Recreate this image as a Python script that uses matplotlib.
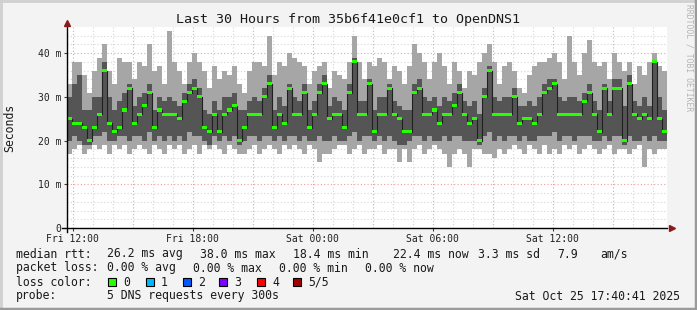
import numpy as np
import matplotlib
matplotlib.use('Agg')
from matplotlib import pyplot as plt
from matplotlib.patches import Rectangle

# 15 minute buckets over 30 hours, hours counted from Fri 00:00
start_h = 11.72
step_h = 0.25

med = [25, 24, 24, 23, 20, 23, 26, 36, 24, 22,
       23, 27, 32, 24, 26, 28, 31, 23, 27, 26,
       26, 26, 25, 29, 31, 32, 30, 23, 22, 26,
       22, 26, 27, 28, 20, 23, 26, 26, 26, 30,
       33, 23, 26, 24, 32, 26, 26, 31, 23, 26,
       31, 33, 25, 26, 26, 23, 31, 38, 26, 26,
       33, 22, 26, 26, 32, 26, 25, 22, 22, 31,
       32, 26, 26, 27, 24, 26, 26, 28, 31, 26,
       24, 25, 20, 30, 36, 26, 26, 26, 26, 30,
       24, 25, 25, 24, 26, 31, 32, 33, 26, 26,
       26, 26, 26, 29, 31, 26, 22, 32, 26, 32,
       32, 20, 33, 26, 25, 26, 25, 38, 25, 22]

hi = [33, 38, 38, 35, 31, 36, 39, 42, 36, 33,
      39, 38, 38, 34, 38, 37, 42, 36, 37, 33,
      45, 38, 36, 33, 38, 40, 38, 36, 32, 37,
      34, 36, 35, 37, 33, 31, 36, 38, 38, 37,
      44, 35, 38, 37, 40, 39, 38, 37, 33, 36,
      37, 38, 32, 36, 35, 34, 38, 44, 38, 34,
      38, 37, 39, 38, 34, 37, 36, 33, 37, 42,
      40, 38, 34, 38, 40, 37, 33, 38, 36, 32,
      36, 35, 38, 40, 42, 38, 33, 37, 38, 36,
      32, 31, 35, 37, 38, 38, 39, 40, 38, 34,
      44, 38, 35, 40, 43, 38, 37, 38, 34, 40,
      38, 36, 38, 33, 37, 35, 38, 40, 37, 36]

lo = [17, 18, 19, 17, 18, 19, 18, 19, 17, 19,
      18, 19, 17, 18, 19, 18, 17, 19, 18, 17,
      19, 18, 19, 17, 18, 19, 17, 19, 18, 19,
      18, 17, 19, 18, 17, 17, 18, 19, 17, 18,
      19, 18, 17, 19, 18, 19, 18, 17, 19, 18,
      15, 17, 17, 18, 19, 19, 17, 18, 19, 17,
      18, 18, 19, 17, 18, 18, 15, 18, 15, 18,
      19, 17, 18, 19, 18, 17, 14, 17, 18, 17,
      14, 18, 18, 17, 17, 16, 18, 17, 18, 19,
      18, 17, 19, 18, 17, 19, 17, 18, 17, 19,
      18, 19, 17, 18, 19, 18, 17, 18, 19, 17,
      18, 18, 17, 18, 19, 14, 18, 17, 18, 18]

p2 = [20, 21, 20, 19, 19, 21, 21, 22, 20, 20,
      21, 21, 20, 21, 21, 20, 22, 20, 21, 20,
      21, 20, 21, 20, 22, 21, 21, 20, 19, 21,
      20, 21, 20, 21, 19, 20, 21, 21, 20, 21,
      21, 20, 21, 20, 21, 21, 20, 21, 20, 20,
      21, 20, 20, 21, 20, 20, 21, 22, 20, 21,
      21, 20, 21, 20, 21, 20, 19, 19, 20, 21,
      21, 20, 21, 20, 20, 21, 20, 21, 21, 20,
      20, 20, 19, 21, 22, 20, 21, 20, 21, 21,
      20, 21, 20, 20, 21, 21, 21, 22, 20, 21,
      21, 20, 21, 21, 21, 20, 20, 21, 20, 21,
      21, 19, 21, 20, 20, 21, 20, 21, 20, 20]

p4 = [30, 33, 35, 27, 27, 30, 30, 38, 30, 27,
      29, 31, 33, 28, 30, 31, 33, 27, 30, 29,
      30, 29, 28, 31, 33, 34, 32, 27, 26, 29,
      27, 30, 30, 31, 27, 27, 29, 30, 29, 32,
      35, 27, 30, 28, 33, 30, 29, 33, 27, 29,
      33, 35, 28, 30, 29, 27, 33, 39, 29, 29,
      34, 27, 30, 30, 33, 29, 28, 27, 27, 33,
      34, 30, 29, 30, 28, 30, 29, 31, 33, 29,
      28, 29, 26, 32, 37, 30, 29, 30, 30, 32,
      28, 28, 29, 28, 30, 33, 34, 34, 30, 29,
      30, 30, 29, 31, 33, 29, 27, 33, 29, 34,
      34, 28, 35, 29, 28, 30, 28, 38, 30, 27]

tick_hours = [12, 18, 24, 30, 36]
tick_labels = ['Fri 12:00', 'Fri 18:00', 'Sat 00:00', 'Sat 06:00', 'Sat 12:00']
y_ticks = [0, 10, 20, 30, 40]
y_labels = ['0', '10 m', '20 m', '30 m', '40 m']

W, H = 697, 310
fig = plt.figure(figsize=(W / 100, H / 100), dpi=100, facecolor='#f3f3f3')
ax = fig.add_axes([67 / W, 1 - 228 / H, 600 / W, 201 / H])
ax.set_facecolor('white')

n = len(med)
x = start_h + step_h * np.arange(n)
med_a = np.array(med, float)
ax.bar(x, np.array(hi) - np.array(lo), bottom=lo, width=step_h, align='edge',
       color='#a6a6a6', linewidth=0, zorder=2)
ax.bar(x, np.array(p4) - np.array(p2), bottom=p2, width=step_h, align='edge',
       color='#555555', linewidth=0, zorder=3)
xe = np.append(x, x[-1] + step_h)
ax.step(xe, np.append(med_a, med_a[-1]), where='post', color='#202020', lw=0.8, zorder=4)
ax.bar(x, 0.7, bottom=med_a - 0.35, width=step_h, align='edge',
       color='#26ff00', linewidth=0, zorder=5)

ax.set_xlim(start_h, start_h + 30)
ax.set_ylim(0, 46)

# grid: hourly minor, red every 3 hours / 10 ms
for h in range(12, 42):
    c = '#f0a0a0' if h % 3 == 0 else '#d4d4d4'
    ax.axvline(h, color=c, lw=0.8, ls=(0, (1, 2)), zorder=1)
for v in range(2, 46, 2):
    c = '#f0a0a0' if v % 10 == 0 else '#d4d4d4'
    ax.axhline(v, color=c, lw=0.8, ls=(0, (1, 2)), zorder=1)

for s in ax.spines.values():
    s.set_visible(False)
ax.set_xticks(tick_hours)
ax.set_xticklabels(tick_labels)
ax.set_yticks(y_ticks)
ax.set_yticklabels(y_labels)
ax.tick_params(length=2, width=0.8, color='#404040', labelsize=7, pad=2, labelcolor='#202020')
for lab in ax.get_xticklabels() + ax.get_yticklabels():
    lab.set_family('DejaVu Sans Mono')

# axis lines with arrows
ax.plot([-0.009, 1.0], [0, 0], transform=ax.transAxes, color='black', lw=1, clip_on=False, zorder=6)
ax.plot([0, 0], [-0.02, 1.0], transform=ax.transAxes, color='black', lw=1, clip_on=False, zorder=6)
ax.plot([1.008], [0], transform=ax.transAxes, marker='>', ms=5, color='#8b1a1a', clip_on=False, zorder=7)
ax.plot([0], [1.02], transform=ax.transAxes, marker='^', ms=5, color='#8b1a1a', clip_on=False, zorder=7)

mono = 'DejaVu Sans Mono'
def t(px, py, s, **kw):
    kw.setdefault('size', 8.3)
    kw.setdefault('family', mono)
    kw.setdefault('color', '#1a1a1a')
    kw.setdefault('va', 'center')
    fig.text(px / W, 1 - py / H, s, **kw)

t(348, 19, 'Last 30 Hours from 35b6f41e0cf1 to OpenDNS1', size=9.6, ha='center')
t(10, 128, 'Seconds', rotation=90, ha='center', size=8.3)
t(689, 58, 'RRDTOOL / TOBI OETIKER', rotation=270, ha='center', size=5.8, color='#b4b4b4')

t(16, 254, 'median rtt:')
for px, s in [(107, '26.2 ms avg'), (200, '38.0 ms max'), (293, '18.4 ms min'),
              (393, '22.4 ms now'), (478, '3.3 ms sd'), (557, '7.9'), (600, 'am/s')]:
    t(px, 254, s)
t(16, 268, 'packet loss:')
for px, s in [(107, '0.00 % avg'), (193, '0.00 % max'), (279, '0.00 % min'), (365, '0.00 % now')]:
    t(px, 268, s)
t(16, 282, 'loss color:')
loss_cols = ['#26ff00', '#00b8ff', '#0059ff', '#7e00ff', '#ff0000', '#a10000']
loss_names = ['0', '1', '2', '3', '4', '5/5']
box_x = [108, 146, 183, 219, 257, 293]
for bx, c, nm in zip(box_x, loss_cols, loss_names):
    fig.patches.append(Rectangle((bx / W, 1 - 286 / H), 8 / W, 8 / H, transform=fig.transFigure,
                                 facecolor=c, edgecolor='black', lw=0.8))
    t(bx + 15, 282, nm)
t(16, 296, 'probe:')
t(107, 296, '5 DNS requests every 300s')
t(680, 296, 'Sat Oct 25 17:40:41 2025', ha='right')

# frame
fig.add_artist(plt.Line2D([0, 1], [1 - 0.5 / H, 1 - 0.5 / H], color='#d0d0d0', lw=2))
fig.add_artist(plt.Line2D([0.5 / W, 0.5 / W], [0, 1], color='#d0d0d0', lw=2))
fig.add_artist(plt.Line2D([0, 1], [1 / H, 1 / H], color='#9a9a9a', lw=2.5))
fig.add_artist(plt.Line2D([1 - 1 / W, 1 - 1 / W], [0, 1], color='#9a9a9a', lw=2.5))

fig.savefig('out.png', dpi=100, facecolor=fig.get_facecolor())
